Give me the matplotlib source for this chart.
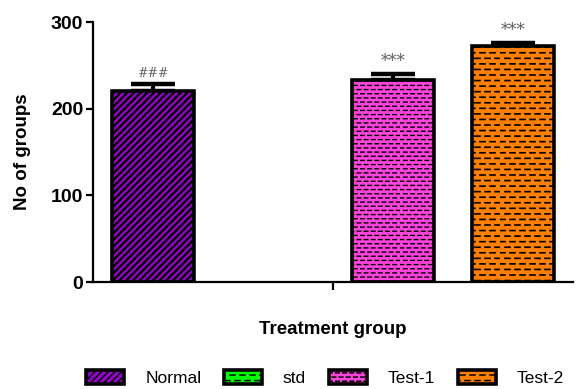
import numpy as np
import matplotlib
matplotlib.use('Agg')
import matplotlib.pyplot as plt
import matplotlib.hatch as mhatch
from matplotlib.path import Path

# data
groups = ['Normal', 'std', 'Test-1', 'Test-2']
means = [221, np.nan, 233, 272]
errs = [8, np.nan, 7, 4]
marks = ['###', '', '***', '***']
colors = ['#9900CC', '#00FF00', '#FF44DD', '#FF8000']
hatches = ['/////', '---', '----', '---']
hatch_lw = [1.7, 1.1, 1.0, 1.2]


# GraphPad-like dashed hatch: replace the plain horizontal one with brick dashes
class DashHatch(mhatch.HatchPatternBase):
    def __init__(self, hatch, density):
        self.num_rows = int((hatch.count('-') + hatch.count('+')) * density)
        self.per_row = max(int(self.num_rows * 0.6), 1)
        self.num_vertices = self.num_rows * self.per_row * 2

    def set_vertices_and_codes(self, vertices, codes):
        n, m = self.num_rows, self.per_row
        k = 0
        for i in range(n):
            y = (i + 0.5) / n
            off = 0.5 / m if i % 2 else 0.0
            for j in range(m):
                x0 = j / m + off
                vertices[k] = (x0, y)
                vertices[k + 1] = (x0 + 0.5 / m, y)
                codes[k] = Path.MOVETO
                codes[k + 1] = Path.LINETO
                k += 2


mhatch._hatch_types[0] = DashHatch

plt.rcParams['font.family'] = ['Liberation Sans', 'DejaVu Sans']
plt.rcParams['hatch.linewidth'] = 1.1

fig = plt.figure(figsize=(5.85, 3.89), dpi=100)
ax = fig.add_axes([0.159, 0.275, 0.82, 0.668])

x = np.arange(len(groups))
bars = ax.bar(x, means, width=0.683, color=colors, edgecolor='black',
              linewidth=2.6, zorder=2)
for b, h, lw in zip(bars, hatches, hatch_lw):
    b.set_hatch(h)
    if hasattr(b, 'set_hatch_linewidth'):
        b.set_hatch_linewidth(lw)

ax.errorbar(x, means, yerr=[np.zeros(len(errs)), errs], fmt='none',
            ecolor='black', elinewidth=3, capsize=15.5, capthick=3.2, zorder=1)

for xi, m, e, t in zip(x, means, errs, marks):
    if t:
        fs = 9 if t == '###' else 12
        ax.annotate(t, (xi, m + e), xytext=(0, 3), textcoords='offset points',
                    ha='center', va='bottom', fontsize=fs, color='#606060',
                    family='DejaVu Serif')

ax.set_xlim(-0.5, 3.5)
ax.set_ylim(0, 300)
ax.set_yticks([0, 100, 200, 300])
ax.set_yticklabels(['0', '100', '200', '300'], fontweight='bold', fontsize=14)
ax.set_xticks([1.5])
ax.set_xticklabels([''])
ax.tick_params(axis='both', width=1.6, length=5, pad=2)
ax.tick_params(axis='x', length=6)
for s in ['top', 'right']:
    ax.spines[s].set_visible(False)
for s in ['left', 'bottom']:
    ax.spines[s].set_linewidth(1.6)

ax.set_ylabel('No of groups', fontweight='bold', fontsize=13.5, labelpad=14)
ax.set_xlabel('Treatment group', fontweight='bold', fontsize=13.5, labelpad=20)

fig.legend(bars, groups, loc='center', bbox_to_anchor=(325 / 585, 1 - 378 / 389),
           ncol=4, frameon=False, fontsize=12.5, handlelength=2.2, handleheight=0.85,
           handletextpad=1.2, columnspacing=1.3)

fig.savefig('out.png', dpi=100)
